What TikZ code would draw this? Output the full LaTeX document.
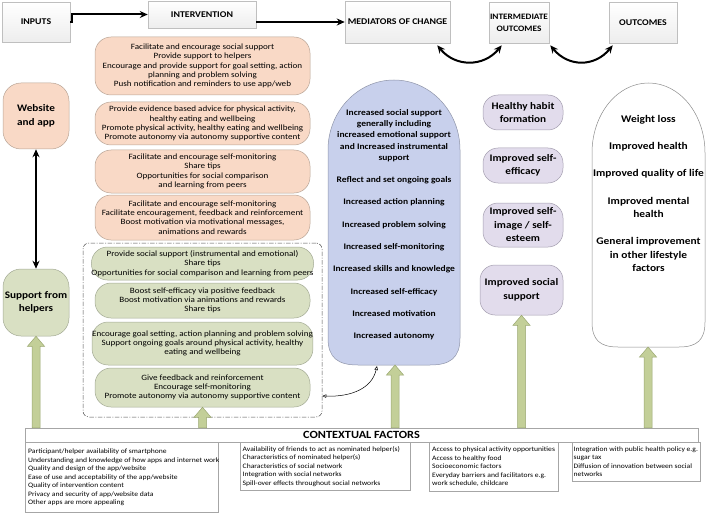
\documentclass[tikz,border=0pt]{standalone}
\usepackage{fontspec}
\setmainfont[FakeStretch=1.12]{Carlito}
\usetikzlibrary{arrows.meta,calc,shadows}
\definecolor{ofill}{HTML}{F9D9C6}
\definecolor{odraw}{HTML}{B8A496}
\definecolor{gfill}{HTML}{D9E0C3}
\definecolor{gdraw}{HTML}{A3AA94}
\definecolor{bfill}{HTML}{C8D0EC}
\definecolor{bdraw}{HTML}{8E94A8}
\definecolor{pfill}{HTML}{E2DCEC}
\definecolor{pdraw}{HTML}{A39DAE}
\definecolor{afill}{HTML}{C3CF98}
\definecolor{adraw}{HTML}{9AA771}
\definecolor{hdraw}{HTML}{BFBFBF}
\tikzset{
  hdr/.style={draw=hdraw, top color=white, bottom color=black!7, line width=0.5pt,
    font=\fontsize{8.8}{12}\selectfont\bfseries, align=center, inner sep=0pt,
    drop shadow={shadow xshift=1pt, shadow yshift=-1pt, opacity=0.25}},
  lbox/.style={rounded corners=18pt, line width=0.5pt, minimum width=66pt, minimum height=66pt,
    font=\fontsize{10}{13.5}\selectfont\bfseries, align=center, inner sep=0pt},
  ibox/.style={rounded corners=16pt, line width=0.5pt, minimum width=215pt, align=center,
    inner sep=0pt, font=\fontsize{8.1}{9.3}\selectfont},
  obox/.style={ibox, fill=ofill, draw=odraw},
  gbox/.style={ibox, fill=gfill, draw=gdraw},
  pbox/.style={rounded corners=15pt, line width=0.5pt, fill=pfill, draw=pdraw, minimum width=80pt,
    font=\fontsize{10}{13.5}\selectfont\bfseries, align=center, inner sep=0pt},
  bigarrow/.style={line width=2pt, -{Stealth[length=8pt,width=7pt]}},
  dblarrow/.style={line width=2pt, {Stealth[length=8pt,width=7pt]}-{Stealth[length=8pt,width=7pt]}},
  garrow/.style={fill=afill, draw=adraw, line width=0.5pt},
  ctxbox/.style={draw=black!35, fill=white, line width=0.5pt, anchor=north west, inner sep=0pt,
    drop shadow={shadow xshift=1pt, shadow yshift=-1pt, opacity=0.25}},
  ctxtext/.style={anchor=west, align=left, inner sep=0pt, font=\fontsize{6.8}{8.5}\selectfont},
}
\newcommand\garrow[2]{%
  \filldraw[garrow] ($(#1)+(-4,0)$) -- ($(#2)+(-4,10)$) -- ($(#2)+(-8.5,10)$) -- (#2)
    -- ($(#2)+(8.5,10)$) -- ($(#2)+(4,10)$) -- ($(#1)+(4,0)$) -- cycle;}
\begin{document}
\begin{tikzpicture}[x=1pt,y=-1pt]
\useasboundingbox (0,0) rectangle (708,513);
% header row
\node[hdr, minimum width=68pt, minimum height=40pt] (inputs) at (36,22) {INPUTS};
\node[hdr, minimum width=108pt, minimum height=27pt] (intervention) at (202,14.5) {INTERVENTION};
\node[hdr, minimum width=105pt, minimum height=42pt] (mediators) at (397.5,22) {MEDIATORS OF CHANGE};
\node[hdr, minimum width=60pt, minimum height=41pt, font=\fontsize{8.3}{12}\selectfont\bfseries] (intermediate) at (519,22.5) {INTERMEDIATE\\OUTCOMES};
\node[hdr, minimum width=68pt, minimum height=41pt] (outcomes) at (643,22.5) {OUTCOMES};
\draw[bigarrow] (inputs.east) -- ++(2,0) |- (intervention.west);
\draw[bigarrow] (intervention.east |- mediators.west) -- (mediators.west);
\coordinate (m1) at ($(mediators.south east)+(-13,2)$);
\coordinate (m2) at ($(intermediate.south west)+(13,2)$);
\coordinate (m3) at ($(intermediate.south east)+(1,2)$);
\coordinate (m4) at ($(outcomes.south west)+(4,2)$);
\draw[dblarrow] (m1) .. controls ($(m1)+(18,22)$) and ($(m2)+(-18,22)$) .. (m2);
\draw[dblarrow] (m3) .. controls ($(m3)+(18,22)$) and ($(m4)+(-18,22)$) .. (m4);
% left column
\node[lbox, fill=ofill, draw=odraw] (website) at (36,116) {Website\\and app};
\node[lbox, fill=gfill, draw=gdraw, minimum height=67pt] (helpers) at (36,302.5) {Support from\\helpers};
\draw[dblarrow, line width=2.2pt] (website.south) -- (helpers.north);
% intervention boxes
\node[obox, minimum height=58pt] (o1) at (202.5,66) {Facilitate and encourage social support\\Provide support to helpers\\Encourage and provide support for goal setting, action\\planning and problem solving\\Push notification and reminders to use app/web};
\node[obox, minimum height=43pt] (o2) at (202.5,123.5) {Provide evidence based advice for physical activity,\\healthy eating and wellbeing\\Promote physical activity, healthy eating and wellbeing\\Promote autonomy via autonomy supportive content};
\node[obox, minimum height=43pt] (o3) at (202.5,171.5) {Facilitate and encourage self-monitoring\\Share tips\\Opportunities for social comparison\\and learning from peers};
\node[obox, minimum height=45pt] (o4) at (202.5,217.5) {Facilitate and encourage self-monitoring\\Facilitate encouragement, feedback and reinforcement\\Boost motivation via motivational messages,\\animations and rewards};
\node[draw=black!70, line width=0.5pt, dash pattern=on 4.5pt off 1.5pt on 1pt off 1.5pt, rounded corners=6pt,
  minimum width=239pt, minimum height=174pt, inner sep=0pt] (grp) at (202.5,330) {};
\node[gbox, minimum height=33pt] (g1) at (202.5,263.5) {Provide social support (instrumental and emotional)\\Share tips\\Opportunities for social comparison and learning from peers};
\node[gbox, minimum height=35pt] (g2) at (202.5,300.5) {Boost self-efficacy via positive feedback\\Boost motivation via animations and rewards\\Share tips};
\node[gbox, minimum height=43pt] (g3) at (202.5,343.5) {Encourage goal setting, action planning and problem solving\\Support ongoing goals around physical activity, healthy\\eating and wellbeing};
\node[gbox, minimum height=39pt] (g4) at (202.5,387.5) {Give feedback and reinforcement\\Encourage self-monitoring\\Promote autonomy via autonomy supportive content};
% mediators shape
\draw[fill=bfill, draw=bdraw, line width=0.5pt] (394,80) .. controls (357.6,80) and (328,111.4) .. (328,150)
  -- (328,338) .. controls (328,358) and (338,365) .. (358,365) -- (430,365)
  .. controls (450,365) and (460,358) .. (460,338) -- (460,150)
  .. controls (460,111.4) and (430.4,80) .. (394,80) -- cycle;
\coordinate (medbot) at (395,365);
\coordinate (medleft) at (377,366);
\node[anchor=north, align=center, inner sep=0pt, font=\fontsize{8.5}{11.3}\selectfont\bfseries] (medtext) at (394,109)
  {Increased social support\\generally including\\increased emotional support\\and Increased instrumental\\support\\[11pt]
   Reflect and set ongoing goals\\[11pt]Increased action planning\\[11pt]Increased problem solving\\[11pt]
   Increased self-monitoring\\[11pt]Increased skills and knowledge\\[11pt]Increased self-efficacy\\[11pt]
   Increased motivation\\[11pt]Increased autonomy};
\draw[line width=0.5pt, {Triangle[open,length=4pt,width=3.5pt]}-{Triangle[open,length=4pt,width=3.5pt]}]
  ($(grp.east)+(0,66)$) .. controls (352,397) and (372,388) .. (medleft);
% intermediate outcomes
\node[pbox, minimum height=35pt] (p1) at (523,112.5) {Healthy habit\\formation};
\node[pbox, minimum height=35pt] (p2) at (523,165.5) {Improved self-\\efficacy};
\node[pbox, minimum height=44pt] (p3) at (523,225) {Improved self-\\image / self-\\esteem};
\node[pbox, minimum height=50pt, minimum width=83pt] (p4) at (521.5,290) {Improved social\\support};
% outcomes shape
\draw[fill=white, draw=black!45, line width=0.5pt] (648.5,83) .. controls (617.3,83) and (592,114) .. (592,153)
  -- (592,322) .. controls (592,340) and (600,347) .. (618,347) -- (679,347)
  .. controls (697,347) and (705,340) .. (705,322) -- (705,153)
  .. controls (705,114) and (679.7,83) .. (648.5,83) -- cycle;
\coordinate (outbot) at (648,347);
\node[anchor=north, align=center, inner sep=0pt, font=\fontsize{10.2}{13.3}\selectfont\bfseries] (outtext) at (648.5,115)
  {Weight loss\\[14pt]Improved health\\[14pt]Improved quality of life\\[14pt]Improved mental\\health\\[14pt]
   General improvement\\in other lifestyle\\factors};
% contextual factors
\node[draw=black!35, fill=white, line width=0.5pt, minimum width=673pt, minimum height=14pt, inner sep=0pt,
  font=\fontsize{11}{12}\selectfont\bfseries, drop shadow={shadow xshift=1pt, shadow yshift=-1pt, opacity=0.25}]
  (ctx) at (361.5,435) {CONTEXTUAL FACTORS};
\node[ctxbox, minimum width=193pt, minimum height=70pt] (ca) at (25,442) {};
\node[ctxbox, minimum width=170pt, minimum height=48pt] (cb) at (240,442) {};
\node[ctxbox, minimum width=129pt, minimum height=49pt] (cc) at (429,442) {};
\node[ctxbox, minimum width=128pt, minimum height=39pt] (cd) at (572,442) {};
\node[ctxtext] (ta) at ($(ca.west)+(3,0)$)
  {Participant/helper availability of smartphone\\Understanding and knowledge of how apps and internet work\\Quality and design of the app/website\\Ease of use and acceptability of the app/website\\Quality of intervention content\\Privacy and security of app/website data\\Other apps are more appealing};
\node[ctxtext] (tb) at ($(cb.west)+(2.5,0)$)
  {Availability of friends to act as nominated helper(s)\\Characteristics of nominated helper(s)\\Characteristics of social network\\Integration with social networks\\Spill-over effects throughout social networks};
\node[ctxtext] (tc) at ($(cc.west)+(3,0)$)
  {Access to physical activity opportunities\\Access to healthy food\\Socioeconomic factors\\Everyday barriers and facilitators e.g.\\work schedule, childcare};
\node[ctxtext] (td) at ($(cd.west)+(1.5,0)$)
  {Integration with public health policy e.g.\\sugar tax\\Diffusion of innovation between social\\networks};
% thick green arrows
\coordinate (a1) at (helpers.south |- ctx.north);
\coordinate (a2) at (g4.south |- ctx.north);
\coordinate (a3) at (medbot |- ctx.north);
\coordinate (a4) at (p4.south |- ctx.north);
\coordinate (a5) at (outbot |- ctx.north);
\garrow{a1}{helpers.south}
\garrow{a2}{g4.south}
\garrow{a3}{medbot}
\garrow{a4}{p4.south}
\garrow{a5}{outbot}
\end{tikzpicture}
\end{document}
